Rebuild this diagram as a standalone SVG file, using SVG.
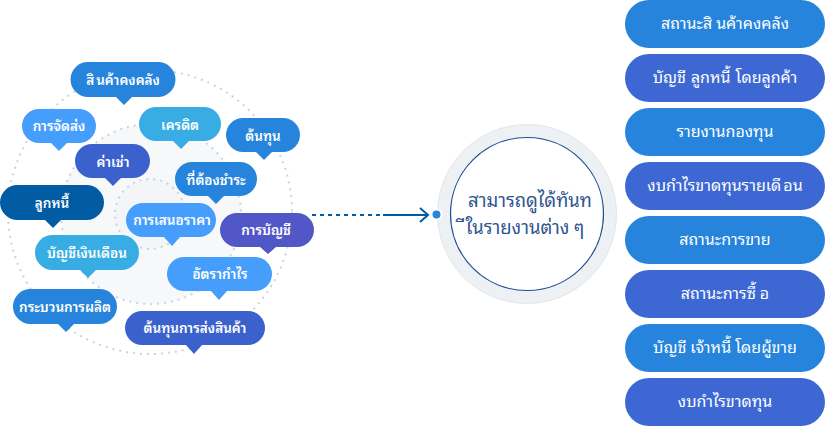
<svg xmlns="http://www.w3.org/2000/svg" width="825" height="426" viewBox="0 0 825 426">
<style>
text{font-family:"Tahoma","Noto Sans Thai Looped","Loma","Noto Sans Thai","Noto Sans","DejaVu Sans",sans-serif;text-anchor:middle}
.b text{font-size:13.500px;font-weight:600;fill:#fff}
.p text{font-size:16px;fill:#fff}
.dot{fill:none;stroke:#c5d6e2;stroke-width:2;stroke-dasharray:2 5}
.c1{fill:#2684dc}.c2{fill:#3d68d4}.c3{fill:#459efb}.c4{fill:#38ade4}.c5{fill:#3b62cc}.c6{fill:#015ca3}.c7{fill:#5257c7}
</style>
<g id="rings">
<circle class="dot" cx="150" cy="212" r="142"/>
<circle cx="151" cy="214" r="90" fill="#f7f8fa" stroke="#c5d6e2" stroke-width="2" stroke-dasharray="2 5"/>
<circle cx="150" cy="214" r="35" fill="#f3f5f8" stroke="#c5d6e2" stroke-width="2" stroke-dasharray="2 5"/>
</g>
<g id="connectors">
<path d="M312 215H383" fill="none" stroke="#015ca3" stroke-width="2" stroke-dasharray="4 4"/>
<path d="M383 215H427M420 208L428 215L420 222" fill="none" stroke="#015ca3" stroke-width="2"/>
</g>
<g id="n1" class="b"><path class="c1" d="M88 62H158A17.500 17.500 0 0 1 158 97H132L124 105L116 97H88A17.500 17.500 0 0 1 88 62Z"/><text x="123" y="85">สิ<tspan dx="2">นค้าคงคลัง</tspan></text></g>
<g id="n2" class="b"><path class="c3" d="M39 109H79A17 17 0 0 1 79 143H67L59 151L51 143H39A17 17 0 0 1 39 109Z"/><text x="59" y="131">การจัดส่ง</text></g>
<g id="n3" class="b"><path class="c4" d="M156 107H204A17 17 0 0 1 204 141H189L181 149L173 141H156A17 17 0 0 1 156 107Z"/><text x="180" y="130">เครดิต</text></g>
<g id="n4" class="b"><path class="c1" d="M243 118H283A17 17 0 0 1 283 152H272L264 160L256 152H243A17 17 0 0 1 243 118Z"/><text x="263" y="141">ต้นทุน</text></g>
<g id="n5" class="b"><path class="c5" d="M92 144H133A17 17 0 0 1 133 178H121L113 186L105 178H92A17 17 0 0 1 92 144Z"/><text x="113" y="167">ค่าเช่า</text></g>
<g id="n6" class="b"><path class="c1" d="M192 162H240A17 17 0 0 1 240 196H224L216 204L208 196H192A17 17 0 0 1 192 162Z"/><text x="216" y="185">ที่ต้องชำระ</text></g>
<g id="n7" class="b"><path class="c6" d="M17.500 185H86.500A17.500 17.500 0 0 1 86.500 220H61L53 228L45 220H17.500A17.500 17.500 0 0 1 17.500 185Z"/><text x="52" y="208">ลูกหนี้</text></g>
<g id="n8" class="b"><path class="c3" d="M143 203H199A17 17 0 0 1 199 237H180L172 246L164 237H143A17 17 0 0 1 143 203Z"/><text x="172" y="225">การเสนอราคา</text></g>
<g id="n9" class="b"><path class="c7" d="M237 213H297A17 17 0 0 1 297 247H276L268 254L260 247H237A17 17 0 0 1 237 213Z"/><text x="266" y="235">การบัญชี</text></g>
<g id="n10" class="b"><path class="c4" d="M52.500 235H121.500A17.500 17.500 0 0 1 121.500 270H96L88 278L80 270H52.500A17.500 17.500 0 0 1 52.500 235Z"/><text x="87" y="258">บัญชีเงินเดือน</text></g>
<g id="n11" class="b"><path class="c3" d="M184 257H255A17 17 0 0 1 255 291H227L219 300L211 291H184A17 17 0 0 1 184 257Z"/><text x="220" y="279">อัตรากำไร</text></g>
<g id="n12" class="b"><path class="c1" d="M30.500 289H99.500A17.500 17.500 0 0 1 99.500 324H74L66 332L58 324H30.500A17.500 17.500 0 0 1 30.500 289Z"/><text x="65" y="312">กระบวนการผลิต</text></g>
<g id="n13" class="b"><path class="c5" d="M142 311H248A17 17 0 0 1 248 345H202L194 354L186 345H142A17 17 0 0 1 142 311Z"/><text x="195" y="333">ต้นทุนการส่งสินค้า</text></g>
<g id="center">
<circle cx="527" cy="214" r="89.500" fill="#eef1f4" stroke="#e2e6ea" stroke-width="1"/>
<circle cx="527" cy="214" r="76.500" fill="#fff" stroke="#1f4e96" stroke-width="1.200"/>
<circle cx="436.500" cy="214.500" r="5" fill="#2a85dc" stroke="#fff" stroke-width="2"/>
<text x="530" y="207" font-size="18.500" fill="#2f5590">สามารถดูได้ทันท</text>
<text x="525" y="234" font-size="18.500" fill="#2f5590">ีในรายงานต่าง ๆ</text>
</g>
<g id="p1" class="p"><rect class="c1" x="625" y="0" width="200" height="48" rx="24"/><text x="725" y="29">สถานะสิ<tspan dx="4">นค้าคงคลัง</tspan></text></g>
<g id="p2" class="p"><rect class="c2" x="625" y="54" width="200" height="48" rx="24"/><text x="725" y="83">บัญชี<tspan dx="5">ลูกหนี้</tspan><tspan dx="5">โดยลูกค้า</tspan></text></g>
<g id="p3" class="p"><rect class="c1" x="625" y="108" width="200" height="48" rx="24"/><text x="725" y="137">รายงานกองทุน</text></g>
<g id="p4" class="p"><rect class="c2" x="625" y="162" width="200" height="48" rx="24"/><text x="725" y="191">งบกำไรขาดทุนรายเดื<tspan dx="2">อน</tspan></text></g>
<g id="p5" class="p"><rect class="c1" x="625" y="216" width="200" height="48" rx="24"/><text x="725" y="245">สถานะการขาย</text></g>
<g id="p6" class="p"><rect class="c2" x="625" y="270" width="200" height="48" rx="24"/><text x="725" y="299">สถานะการซื้<tspan dx="4">อ</tspan></text></g>
<g id="p7" class="p"><rect class="c1" x="625" y="324" width="200" height="48" rx="24"/><text x="725" y="353">บัญชี<tspan dx="4">เจ้าหนี้</tspan><tspan dx="4">โดยผู้ขาย</tspan></text></g>
<g id="p8" class="p"><rect class="c2" x="625" y="378" width="200" height="48" rx="24"/><text x="725" y="407">งบกำไรขาดทุน</text></g>
</svg>
